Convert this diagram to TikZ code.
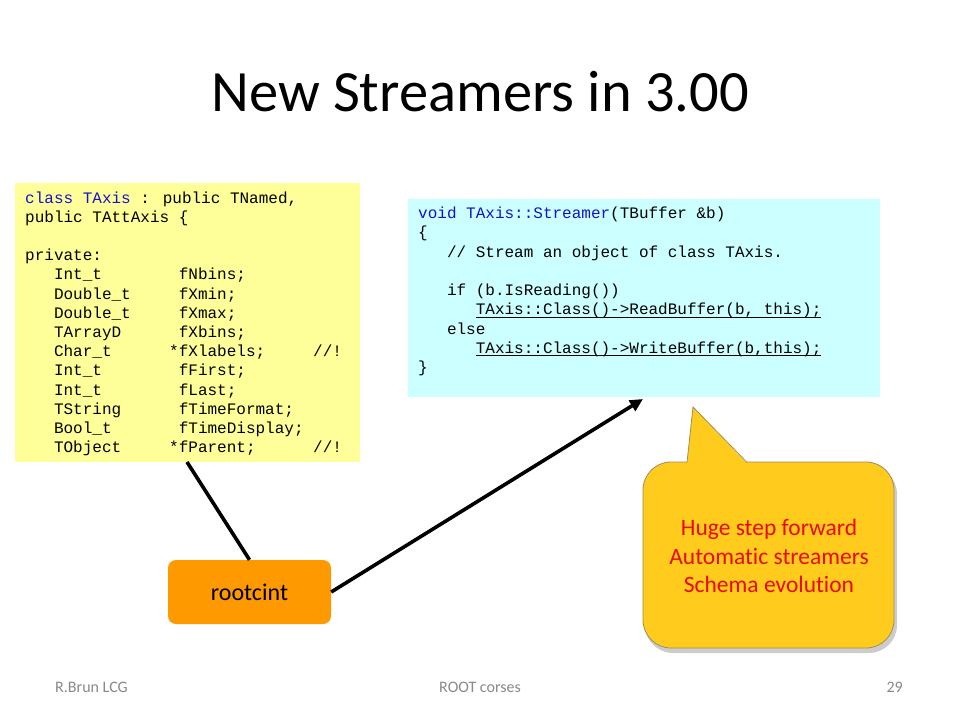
\documentclass[tikz,border=0pt]{standalone}
\usepackage{fontspec}
\setmainfont{Carlito}
\newfontfamily\calloutfont[Ligatures={NoCommon}]{Carlito}
\newfontfamily\codefont{Liberation Mono}
\usetikzlibrary{arrows.meta}
\definecolor{codeyellow}{RGB}{255,255,153}
\definecolor{codecyan}{RGB}{204,255,255}
\definecolor{codeblue}{RGB}{20,20,200}
\definecolor{rootorange}{RGB}{255,153,0}
\definecolor{calloutgold}{RGB}{255,204,30}
\definecolor{calloutedge}{RGB}{160,140,90}
\definecolor{calloutred}{RGB}{235,10,0}
\definecolor{footgray}{RGB}{137,137,137}
\newcommand\codeul[1]{\setbox0\hbox{#1}\rlap{\rule[-2.8pt]{\wd0}{1pt}}\box0}
\begin{document}
\begin{tikzpicture}[x=1pt,y=-1pt,
  code/.style={font=\codefont\fontsize{16}{19.2}\selectfont, inner sep=0pt, anchor=base west},
  boxy/.style={fill=codeyellow, inner sep=0pt, anchor=north west},
  boxc/.style={fill=codecyan, inner sep=0pt, anchor=north west},
  rootbox/.style={fill=rootorange, rounded corners=8pt, inner sep=0pt, font=\fontsize{24}{28}\selectfont},
  foot/.style={font=\fontsize{16}{19}\selectfont, text=footgray, inner sep=0pt, anchor=base},
  conn/.style={line width=3.6pt, black}]
\useasboundingbox[fill=white] (0,0) rectangle (960,720);

\node[font=\fontsize{58.5}{70}\selectfont, anchor=base, inner sep=0pt] (title) at (480,111) {New Streamers in 3.00};

\node[boxy, minimum width=345pt, minimum height=279pt] (ybox) at (15,183) {};
\foreach \t [count=\i] in {
  {\textcolor{codeblue}{class TAxis} : public TNamed,},
  {public TAttAxis \{},
  {},
  {private:},
  {~~~Int\_t~~~~~~~~fNbins;},
  {~~~Double\_t~~~~~fXmin;},
  {~~~Double\_t~~~~~fXmax;},
  {~~~TArrayD~~~~~~fXbins;},
  {~~~Char\_t~~~~~~*fXlabels;~~~~~//!},
  {~~~Int\_t~~~~~~~~fFirst;},
  {~~~Int\_t~~~~~~~~fLast;},
  {~~~TString~~~~~~fTimeFormat;},
  {~~~Bool\_t~~~~~~~fTimeDisplay;},
  {~~~TObject~~~~~*fParent;~~~~~~//!}}
  \node[code] (y\i) at (25,{203+19.2*(\i-1)}) {\t};

\node[boxc, minimum width=472pt, minimum height=198pt] (cbox) at (408,199) {};
\foreach \t [count=\i] in {
  {\textcolor{codeblue}{void TAxis::Streamer}(TBuffer \&b)},
  {\{},
  {~~~// Stream an object of class TAxis.},
  {},
  {~~~if (b.IsReading())},
  {~~~~~~\codeul{TAxis::Class()->ReadBuffer(b, this);}},
  {~~~else},
  {~~~~~~\codeul{TAxis::Class()->WriteBuffer(b,this);}},
  {\}}}
  \node[code] (c\i) at (418,{218.5+19.25*(\i-1)}) {\t};

\node[rootbox, minimum width=163pt, minimum height=64pt] (rootcint) at (249.5,592) {rootcint};

% callout shadow
\fill[black, opacity=0.2, rounded corners=28pt] (645,466) rectangle (897,653);
\fill[black, opacity=0.2] (689,466) -- (695,411) -- (749,466) -- cycle;
% callout body
\draw[fill=calloutgold, draw=calloutedge, line width=0.8pt, rounded corners=28pt] (643,462) rectangle (894,648);
% callout pointer
\fill[calloutgold] (687,463.5) -- (693,407) -- (747,463.5) -- cycle;
\draw[draw=calloutedge, line width=0.8pt, line join=miter] (687,462.4) -- (693,407) -- (747,462.4);
\node[align=center, font=\calloutfont\fontsize{23.5}{28.7}\selectfont, text=calloutred, inner sep=0pt] (ctext) at (769,556) {Huge step forward\\Automatic streamers\\Schema evolution};

\coordinate (a1) at (187,462);
\coordinate (a2) at (643,399);
\draw[conn] (a1) -- (rootcint.north);
\draw[conn, -{Triangle[length=13pt,width=12pt]}] (rootcint.east) -- (a2);

\node[foot, anchor=base west] (f1) at (55,692) {R.Brun LCG};
\node[foot] (f2) at (480,692) {ROOT corses};
\node[foot, anchor=base east] (f3) at (903,692) {29};
\end{tikzpicture}
\end{document}
